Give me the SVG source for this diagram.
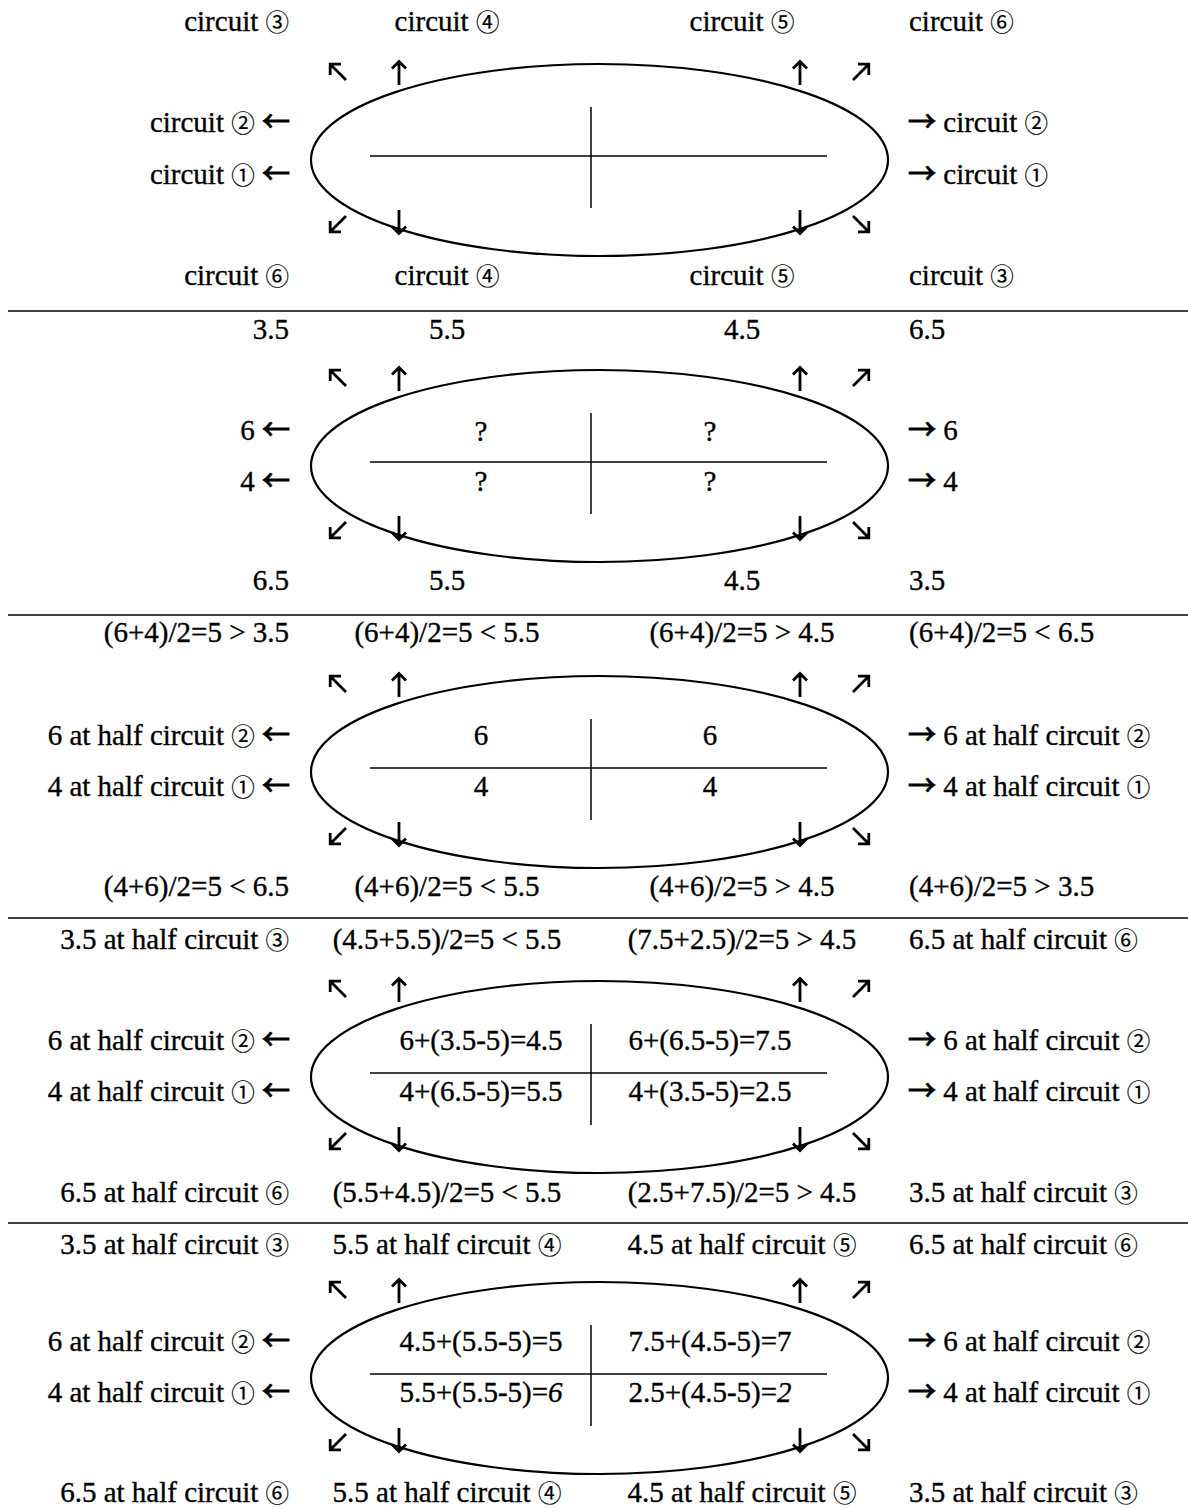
<svg xmlns="http://www.w3.org/2000/svg" width="1188" height="1509" viewBox="0 0 1188 1509">
<style>
text{font-family:"Liberation Serif","Noto Sans CJK JP",serif;font-size:29px;fill:#000;stroke:#000;stroke-width:0.35}
.e{text-anchor:end}.m{text-anchor:middle}.s{text-anchor:start}
.cd{font-family:"Noto Sans CJK JP",sans-serif;font-size:23.5px;stroke-width:0.2}
.ar{font-family:"Noto Sans CJK JP",sans-serif;font-size:28px;stroke-width:1}
.it{font-style:italic}
.ell{fill:none;stroke:#000;stroke-width:2.2}
.ln{stroke:#000;stroke-width:1.5;fill:none}
.arw{fill:none;stroke:#000;stroke-width:2.8}
</style>
<defs>
<path id="aU" class="arw" d="M0,0 V24 M-7,7.5 L0,0.5 L7,7.5"/>
<path id="aD" class="arw" d="M0,0 V-24 M-7,-7.5 L0,-0.5 L7,-7.5"/>
<path id="aUL" class="arw" d="M17,17 L1.5,1.5 M0,1.2 H12 M1.2,0 V12"/>
<path id="aUR" class="arw" d="M-17,17 L-1.5,1.5 M0,1.2 H-12 M-1.2,0 V12"/>
<path id="aDL" class="arw" d="M17,-17 L1.5,-1.5 M0,-1.2 H12 M1.2,0 V-12"/>
<path id="aDR" class="arw" d="M-17,-17 L-1.5,-1.5 M0,-1.2 H-12 M-1.2,0 V-12"/>
<g id="shape">
<ellipse class="ell" cx="599.5" cy="4" rx="288.5" ry="96"/>
<line class="ln" x1="370" y1="0" x2="827" y2="0"/>
<line class="ln" x1="591" y1="-49" x2="591" y2="52"/>
<use href="#aUL" x="329" y="-93"/>
<use href="#aU" x="399" y="-95"/>
<use href="#aU" x="800" y="-95"/>
<use href="#aUR" x="870" y="-93"/>
<use href="#aDL" x="329" y="77"/>
<use href="#aD" x="399" y="78"/>
<use href="#aD" x="800" y="78"/>
<use href="#aDR" x="870" y="77"/>
</g>
</defs>

<g id="connectors">
<line class="ln" x1="8" y1="311" x2="1188" y2="311"/>
<line class="ln" x1="8" y1="615" x2="1188" y2="615"/>
<line class="ln" x1="8" y1="918" x2="1188" y2="918"/>
<line class="ln" x1="8" y1="1223" x2="1188" y2="1223"/>
</g>

<g id="section1">
<use href="#shape" y="156"/>
<text class="e" x="289" y="31">circuit <tspan class="cd">③</tspan></text>
<text class="m" x="447" y="31">circuit <tspan class="cd">④</tspan></text>
<text class="m" x="742" y="31">circuit <tspan class="cd">⑤</tspan></text>
<text class="s" x="909" y="31">circuit <tspan class="cd">⑥</tspan></text>
<text class="e" x="290" y="132">circuit <tspan class="cd">②</tspan> <tspan class="ar">←</tspan></text>
<text class="e" x="290" y="184">circuit <tspan class="cd">①</tspan> <tspan class="ar">←</tspan></text>
<text class="s" x="908" y="132"><tspan class="ar">→</tspan> circuit <tspan class="cd">②</tspan></text>
<text class="s" x="908" y="184"><tspan class="ar">→</tspan> circuit <tspan class="cd">①</tspan></text>
<text class="e" x="289" y="285">circuit <tspan class="cd">⑥</tspan></text>
<text class="m" x="447" y="285">circuit <tspan class="cd">④</tspan></text>
<text class="m" x="742" y="285">circuit <tspan class="cd">⑤</tspan></text>
<text class="s" x="909" y="285">circuit <tspan class="cd">③</tspan></text>
</g>

<g id="section2">
<use href="#shape" y="462"/>
<text class="e" x="289" y="339">3.5</text>
<text class="m" x="447" y="339">5.5</text>
<text class="m" x="742" y="339">4.5</text>
<text class="s" x="909" y="339">6.5</text>
<text class="e" x="290" y="440">6 <tspan class="ar">←</tspan></text>
<text class="e" x="290" y="491">4 <tspan class="ar">←</tspan></text>
<text class="s" x="908" y="440"><tspan class="ar">→</tspan> 6</text>
<text class="s" x="908" y="491"><tspan class="ar">→</tspan> 4</text>
<text class="m" x="481" y="441">?</text>
<text class="m" x="710" y="441">?</text>
<text class="m" x="481" y="491">?</text>
<text class="m" x="710" y="491">?</text>
<text class="e" x="289" y="590">6.5</text>
<text class="m" x="447" y="590">5.5</text>
<text class="m" x="742" y="590">4.5</text>
<text class="s" x="909" y="590">3.5</text>
</g>

<g id="section3">
<use href="#shape" y="768"/>
<text class="e" x="289" y="642">(6+4)/2=5 &gt; 3.5</text>
<text class="m" x="447" y="642">(6+4)/2=5 &lt; 5.5</text>
<text class="m" x="742" y="642">(6+4)/2=5 &gt; 4.5</text>
<text class="s" x="909" y="642">(6+4)/2=5 &lt; 6.5</text>
<text class="e" x="290" y="745">6 at half circuit <tspan class="cd">②</tspan> <tspan class="ar">←</tspan></text>
<text class="e" x="290" y="796">4 at half circuit <tspan class="cd">①</tspan> <tspan class="ar">←</tspan></text>
<text class="s" x="908" y="745"><tspan class="ar">→</tspan> 6 at half circuit <tspan class="cd">②</tspan></text>
<text class="s" x="908" y="796"><tspan class="ar">→</tspan> 4 at half circuit <tspan class="cd">①</tspan></text>
<text class="m" x="481" y="745">6</text>
<text class="m" x="710" y="745">6</text>
<text class="m" x="481" y="796">4</text>
<text class="m" x="710" y="796">4</text>
<text class="e" x="289" y="896">(4+6)/2=5 &lt; 6.5</text>
<text class="m" x="447" y="896">(4+6)/2=5 &lt; 5.5</text>
<text class="m" x="742" y="896">(4+6)/2=5 &gt; 4.5</text>
<text class="s" x="909" y="896">(4+6)/2=5 &gt; 3.5</text>
</g>

<g id="section4">
<use href="#shape" y="1073"/>
<text class="e" x="289" y="949">3.5 at half circuit <tspan class="cd">③</tspan></text>
<text class="m" x="447" y="949">(4.5+5.5)/2=5 &lt; 5.5</text>
<text class="m" x="742" y="949">(7.5+2.5)/2=5 &gt; 4.5</text>
<text class="s" x="909" y="949">6.5 at half circuit <tspan class="cd">⑥</tspan></text>
<text class="e" x="290" y="1050">6 at half circuit <tspan class="cd">②</tspan> <tspan class="ar">←</tspan></text>
<text class="e" x="290" y="1101">4 at half circuit <tspan class="cd">①</tspan> <tspan class="ar">←</tspan></text>
<text class="s" x="908" y="1050"><tspan class="ar">→</tspan> 6 at half circuit <tspan class="cd">②</tspan></text>
<text class="s" x="908" y="1101"><tspan class="ar">→</tspan> 4 at half circuit <tspan class="cd">①</tspan></text>
<text class="m" x="481" y="1050">6+(3.5-5)=4.5</text>
<text class="m" x="710" y="1050">6+(6.5-5)=7.5</text>
<text class="m" x="481" y="1101">4+(6.5-5)=5.5</text>
<text class="m" x="710" y="1101">4+(3.5-5)=2.5</text>
<text class="e" x="289" y="1202">6.5 at half circuit <tspan class="cd">⑥</tspan></text>
<text class="m" x="447" y="1202">(5.5+4.5)/2=5 &lt; 5.5</text>
<text class="m" x="742" y="1202">(2.5+7.5)/2=5 &gt; 4.5</text>
<text class="s" x="909" y="1202">3.5 at half circuit <tspan class="cd">③</tspan></text>
</g>

<g id="section5">
<use href="#shape" y="1374"/>
<text class="e" x="289" y="1254">3.5 at half circuit <tspan class="cd">③</tspan></text>
<text class="m" x="447" y="1254">5.5 at half circuit <tspan class="cd">④</tspan></text>
<text class="m" x="742" y="1254">4.5 at half circuit <tspan class="cd">⑤</tspan></text>
<text class="s" x="909" y="1254">6.5 at half circuit <tspan class="cd">⑥</tspan></text>
<text class="e" x="290" y="1351">6 at half circuit <tspan class="cd">②</tspan> <tspan class="ar">←</tspan></text>
<text class="e" x="290" y="1402">4 at half circuit <tspan class="cd">①</tspan> <tspan class="ar">←</tspan></text>
<text class="s" x="908" y="1351"><tspan class="ar">→</tspan> 6 at half circuit <tspan class="cd">②</tspan></text>
<text class="s" x="908" y="1402"><tspan class="ar">→</tspan> 4 at half circuit <tspan class="cd">①</tspan></text>
<text class="m" x="481" y="1351">4.5+(5.5-5)=5</text>
<text class="m" x="710" y="1351">7.5+(4.5-5)=7</text>
<text class="m" x="481" y="1402">5.5+(5.5-5)=<tspan class="it">6</tspan></text>
<text class="m" x="710" y="1402">2.5+(4.5-5)=<tspan class="it">2</tspan></text>
<text class="e" x="289" y="1502">6.5 at half circuit <tspan class="cd">⑥</tspan></text>
<text class="m" x="447" y="1502">5.5 at half circuit <tspan class="cd">④</tspan></text>
<text class="m" x="742" y="1502">4.5 at half circuit <tspan class="cd">⑤</tspan></text>
<text class="s" x="909" y="1502">3.5 at half circuit <tspan class="cd">③</tspan></text>
</g>
</svg>
